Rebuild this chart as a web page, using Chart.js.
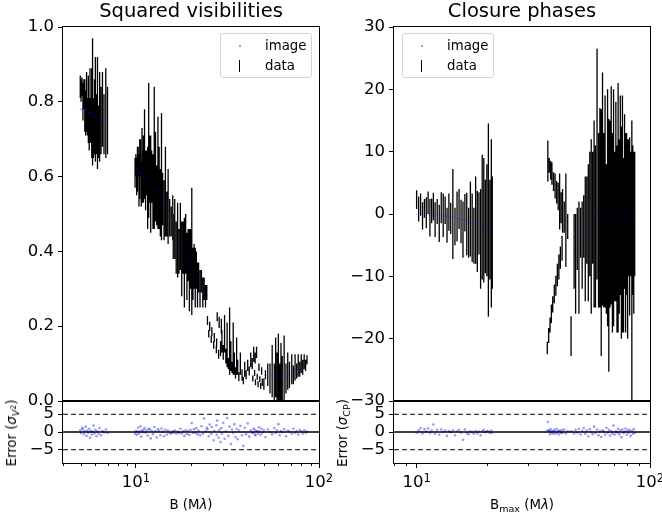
<!DOCTYPE html>
<html>
<head>
<meta charset="utf-8">
<script src="https://cdn.jsdelivr.net/npm/chart.js@4.4.1/dist/chart.umd.min.js"></script>
<style>
  body { margin: 0; background: #fff; font-family: "DejaVu Sans", sans-serif; }
  #wrap { position: relative; width: 662px; height: 519px; overflow: hidden; background: #fff; }
  canvas { position: absolute; }
  .t { position: absolute; white-space: nowrap; color: #000; transform: translate(-50%, -50%); }
  .title { font-size: 19.5px; line-height: 20px; }
  .lab { font-size: 13.3px; line-height: 14px; }
  .rot { transform: translate(-50%, -50%) rotate(-90deg); }
  sub { font-size: 72%; vertical-align: -0.3em; line-height: 0; }
  sup { font-size: 80%; vertical-align: 0.4em; line-height: 0; }
  .leg { position: absolute; box-sizing: border-box; border: 1px solid #d3d3d3; border-radius: 3px; background: rgba(255,255,255,0.8); }
  .leg .lt { position: absolute; font-size: 13.3px; line-height: 14px; }
  .leg .dot { position: absolute; width: 2px; height: 2px; background: rgba(0,0,255,0.4); }
  .leg .bar { position: absolute; width: 1px; height: 12px; background: #000; }
</style>
</head>
<body>
<div id="wrap">
  <canvas id="v2Main" width="334" height="420" style="left:0px;top:0px"></canvas>
  <canvas id="v2Resid" width="334" height="139" style="left:0px;top:380px"></canvas>
  <canvas id="cpMain" width="332" height="420" style="left:330px;top:0px"></canvas>
  <canvas id="cpResid" width="332" height="139" style="left:330px;top:380px"></canvas>

  <div class="t title" style="left:191px;top:11px">Squared visibilities</div>
  <div class="t title" style="left:522px;top:11px">Closure phases</div>
  <div class="t lab" style="left:191px;top:505px">B (M<i>λ</i>)</div>
  <div class="t lab" style="left:522px;top:505px">B<sub>max</sub> (M<i>λ</i>)</div>
  <div class="t lab rot" style="left:12px;top:433px">Error (<i>σ</i><sub><i>V</i><sup>2</sup></sub>)</div>
  <div class="t lab rot" style="left:343px;top:433px">Error (<i>σ</i><sub>CP</sub>)</div>

  <div class="leg" style="left:220px;top:33px;width:92px;height:45px">
    <span class="dot" style="left:18px;top:11px"></span><span class="lt" style="left:44px;top:5px">image</span>
    <span class="bar" style="left:18px;top:26px"></span><span class="lt" style="left:44px;top:25px">data</span>
  </div>
  <div class="leg" style="left:402px;top:33px;width:92px;height:45px">
    <span class="dot" style="left:18px;top:11px"></span><span class="lt" style="left:44px;top:5px">image</span>
    <span class="bar" style="left:18px;top:26px"></span><span class="lt" style="left:44px;top:25px">data</span>
  </div>
</div>

<script>
// squared visibilities: baseline (Mλ), V², error, model image, normalised residual
const v2B = [
  4.97, 5.02, 5.08, 5.14, 5.2, 5.26, 5.32, 5.38, 5.44, 5.5, 5.56, 5.62, 5.68, 5.74, 5.8, 5.87, 5.94, 6.01, 6.09, 6.17, 6.25, 6.34, 6.45, 6.57, 6.7, 6.85, 7.0,
  9.9, 10.0, 10.1, 10.2, 10.3, 10.4, 10.5, 10.6, 10.7, 10.8, 10.9, 11.0, 11.15, 11.3, 11.45, 11.6, 11.75, 11.9, 12.05, 12.2, 12.4, 12.6, 12.8, 13.0, 13.2, 13.4, 13.6, 13.8, 14.0, 14.25, 14.5, 14.75, 15.0, 15.3, 15.6, 15.9,
  16.0, 16.3, 16.6, 16.9, 17.2, 17.5, 17.8, 18.1, 18.4, 18.7, 19.0, 19.3, 19.6, 19.9, 20.2, 20.5, 20.8, 21.1, 21.4, 21.7, 22.0, 22.4, 22.8, 23.2, 23.6, 24.0, 24.4,
  24.6, 25.0, 25.3, 25.8, 26.0, 26.6, 26.8, 27.5, 27.6, 27.8, 28.3, 28.5, 29.0, 29.3, 29.5, 30.0, 30.5, 31.0, 31.5, 32.0, 32.5, 33.0, 33.5, 34.0, 34.5, 35.0, 35.5, 36.0, 36.5, 37.2, 38.0, 38.6, 39.3, 40.0, 40.8, 41.6, 42.4, 43.2, 44.0, 44.8, 45.6,
  43.5, 44.5, 45.0, 46.0, 46.5, 47.0, 47.5, 48.0, 48.6, 49.0, 50.0, 51.0, 52.5, 54.0, 55.5, 57.0, 58.0, 59.0, 60.0, 61.0, 62.0, 63.0, 64.5, 66.0, 67.5, 69.0, 71.0, 72.5, 74.0, 75.5, 77.0, 78.5, 80.0, 81.5, 83.0, 84.5, 86.0
];
const v2Val = [
  0.84, 0.83, 0.84, 0.80, 0.82, 0.79, 0.77, 0.80, 0.76, 0.78, 0.74, 0.79, 0.75, 0.77, 0.80, 0.73, 0.76, 0.78, 0.74, 0.77, 0.72, 0.76, 0.75, 0.78, 0.74, 0.77, 0.75,
  0.61, 0.63, 0.60, 0.62, 0.64, 0.59, 0.62, 0.65, 0.58, 0.63, 0.60, 0.62, 0.66, 0.59, 0.61, 0.57, 0.67, 0.62, 0.58, 0.60, 0.56, 0.65, 0.60, 0.55, 0.61, 0.57, 0.53, 0.60, 0.54, 0.51, 0.56, 0.50, 0.52, 0.49, 0.48, 0.49,
  0.44, 0.46, 0.41, 0.43, 0.40, 0.44, 0.38, 0.41, 0.37, 0.42, 0.36, 0.39, 0.35, 0.38, 0.40, 0.34, 0.36, 0.33, 0.35, 0.31, 0.33, 0.30, 0.32, 0.29, 0.30, 0.28, 0.29,
  0.215, 0.18, 0.20, 0.165, 0.185, 0.15, 0.17, 0.138, 0.155, 0.225, 0.125, 0.21, 0.14, 0.20, 0.16, 0.13, 0.18, 0.12, 0.15, 0.10, 0.16, 0.12, 0.09, 0.14, 0.10, 0.075, 0.12, 0.09, 0.065, 0.10, 0.07, 0.055, 0.085, 0.07, 0.095, 0.08, 0.11, 0.10, 0.125, 0.115, 0.13,
  0.06, 0.075, 0.05, 0.065, 0.045, 0.09, 0.058, 0.04, 0.08, 0.05, 0.045, 0.07, 0.07, 0.06, 0.08, 0.05, 0.09, 0.065, 0.08, 0.05, 0.075, 0.06, 0.085, 0.06, 0.08, 0.07, 0.085, 0.07, 0.09, 0.08, 0.095, 0.085, 0.1, 0.09, 0.105, 0.095, 0.11
];
const v2Err = [
  0.03, 0.03, 0.025, 0.05, 0.04, 0.07, 0.06, 0.08, 0.05, 0.09, 0.07, 0.1, 0.06, 0.12, 0.17, 0.08, 0.1, 0.14, 0.08, 0.15, 0.07, 0.12, 0.09, 0.1, 0.08, 0.12, 0.09,
  0.04, 0.03, 0.05, 0.06, 0.04, 0.07, 0.08, 0.05, 0.06, 0.1, 0.07, 0.09, 0.12, 0.08, 0.06, 0.11, 0.18, 0.09, 0.13, 0.07, 0.1, 0.19, 0.12, 0.08, 0.15, 0.11, 0.09, 0.17, 0.07, 0.08, 0.12, 0.06, 0.1, 0.05, 0.04, 0.06,
  0.06, 0.08, 0.07, 0.1, 0.06, 0.09, 0.1, 0.07, 0.12, 0.08, 0.09, 0.07, 0.11, 0.08, 0.17, 0.07, 0.06, 0.08, 0.05, 0.06, 0.04, 0.05, 0.03, 0.04, 0.03, 0.03, 0.02,
  0.012, 0.01, 0.012, 0.01, 0.012, 0.01, 0.012, 0.01, 0.012, 0.012, 0.012, 0.015, 0.02, 0.02, 0.03, 0.02, 0.05, 0.02, 0.06, 0.015, 0.09, 0.04, 0.015, 0.07, 0.03, 0.015, 0.05, 0.02, 0.012, 0.03, 0.015, 0.01, 0.02, 0.012, 0.015, 0.012, 0.02, 0.015, 0.02, 0.015, 0.015,
  0.008, 0.008, 0.008, 0.008, 0.008, 0.01, 0.008, 0.008, 0.01, 0.01, 0.015, 0.012, 0.03, 0.04, 0.07, 0.05, 0.08, 0.065, 0.1, 0.05, 0.08, 0.06, 0.09, 0.04, 0.05, 0.035, 0.04, 0.025, 0.035, 0.02, 0.03, 0.02, 0.025, 0.02, 0.02, 0.015, 0.012
];
const v2Model = [
  0.78, 0.78, 0.78, 0.78, 0.78, 0.78, 0.78, 0.77, 0.77, 0.77, 0.77, 0.77, 0.77, 0.77, 0.77, 0.76, 0.76, 0.76, 0.76, 0.76, 0.76, 0.76, 0.76, 0.75, 0.75, 0.75, 0.75,
  0.62, 0.62, 0.62, 0.62, 0.61, 0.61, 0.61, 0.61, 0.61, 0.60, 0.60, 0.60, 0.60, 0.59, 0.59, 0.59, 0.58, 0.58, 0.58, 0.57, 0.57, 0.56, 0.56, 0.56, 0.55, 0.55, 0.54, 0.54, 0.53, 0.53, 0.52, 0.52, 0.51, 0.50, 0.49, 0.49,
  0.45, 0.44, 0.44, 0.43, 0.42, 0.42, 0.41, 0.40, 0.40, 0.39, 0.38, 0.38, 0.37, 0.36, 0.36, 0.35, 0.34, 0.34, 0.33, 0.32, 0.32, 0.31, 0.30, 0.30, 0.29, 0.28, 0.28,
  0.21, 0.18, 0.20, 0.165, 0.185, 0.15, 0.17, 0.14, 0.155, 0.22, 0.13, 0.205, 0.14, 0.19, 0.155, 0.13, 0.17, 0.12, 0.14, 0.10, 0.14, 0.115, 0.09, 0.125, 0.10, 0.078, 0.11, 0.088, 0.066, 0.095, 0.072, 0.058, 0.083, 0.07, 0.092, 0.08, 0.105, 0.1, 0.12, 0.113, 0.128,
  0.06, 0.074, 0.051, 0.064, 0.046, 0.088, 0.058, 0.041, 0.079, 0.05, 0.046, 0.068, 0.065, 0.058, 0.07, 0.055, 0.072, 0.062, 0.06, 0.058, 0.068, 0.062, 0.072, 0.065, 0.074, 0.07, 0.078, 0.073, 0.082, 0.08, 0.088, 0.086, 0.094, 0.092, 0.1, 0.097, 0.108
];
const v2Res = [
  0.5, -0.3, 1.2, 0.8, -0.6, 0.2, 1.5, -1.1, 0.4, -0.2, 0.9, -1.6, 0.3, -0.7, 0.1, 1.8, -0.4, 0.6, -1.2, 0.2, -0.5, 1.1, -0.9, 0.3, -0.1, 0.7, -0.3,
  -0.4, 0.3, -0.8, 0.1, 1.2, -0.5, 0.2, 1.6, -1.3, 0.4, -0.1, 0.6, 1.1, -0.2, 0.5, -1.0, 0.9, 0.7, -1.8, 0.3, -0.6, 1.4, 0.2, -1.5, 0.8, 0.3, -0.9, 1.0, 0.1, -1.2, 0.6, -0.7, 0.4, -0.3, -0.5, 0.2,
  -0.2, 0.4, -0.5, 0.1, -0.3, 0.9, -0.4, 0.2, -1.1, 0.5, -0.6, 0.3, -0.8, 0.6, 2.5, -0.3, 0.8, -0.2, 1.1, -0.6, 0.4, -0.9, 1.6, -0.5, 3.8, 0.2, 1.2,
  0.8, -1.2, 2.1, -0.5, 1.4, -2.3, 0.3, 1.9, -0.8, 3.2, -1.6, 0.6, -2.8, 1.1, -0.4, 2.6, -1.9, 0.2, 3.9, -1.1, 1.5, -3.4, 0.7, -0.2, 2.2, -1.4, 0.9, -2.0, 0.4, 1.7, -0.9, -3.9, 1.2, -0.6, 2.4, -1.3, 0.5, -0.1, 1.0, -0.7, 0.3,
  -0.3, 0.6, -1.0, 0.2, -0.5, 1.3, 0.1, -0.8, 0.9, -0.2, 0.4, -1.4, 0.7, 0.0, -0.6, 1.1, -0.3, 0.5, 2.2, -0.9, 0.3, -0.1, 0.8, -1.2, 0.4, 0.1, -0.5, 0.9, -0.2, 0.3, -0.7, 0.6, 0.2, -0.4, 0.5, -0.2, 0.1
];

// closure phases: longest baseline (Mλ), CP (deg), error, model image, normalised residual
const cpB = [
  10.0, 10.2, 10.4, 10.6, 10.8, 11.0, 11.2, 11.4, 11.6, 11.8, 12.0, 12.25, 12.5, 12.75, 13.0, 13.25, 13.5, 13.75, 14.0, 14.3, 14.6, 14.9, 15.2, 15.5, 15.8, 16.1, 16.4, 16.7, 17.0, 17.3, 17.6, 17.9, 18.2, 18.5, 18.8, 19.1, 19.4, 19.7, 20.0, 20.3, 20.6, 20.9, 21.1,
  36.3, 36.5, 36.8, 37.0, 37.3, 37.5, 37.8, 38.0, 38.3, 38.6, 38.9, 39.2, 39.5, 39.8, 40.1, 40.4, 40.7, 41.0, 41.3, 41.6, 42.0, 42.2, 42.9, 43.6, 44.4,
  45.9, 47.3, 48.0, 48.8, 49.6, 50.4, 51.2, 52.0, 52.8, 53.6, 54.4, 55.2, 56.0, 56.8, 57.6, 58.4, 59.3, 60.2, 61.0, 61.8, 62.6, 63.4, 64.2, 65.0, 65.8, 66.6, 67.4, 68.2, 69.0, 69.8, 70.6, 71.4, 72.2, 73.0, 73.8, 74.6, 75.4, 76.2, 77.0, 77.8, 78.6, 79.4, 80.2, 81.0, 81.8, 82.6, 83.6, 84.4, 85.2, 86.0
];
const cpVal = [
  2.3, 0.8, 1.5, -0.3, 0.9, 0.2, 1.8, -0.6, 0.5, 1.2, -0.9, 0.4, -1.5, 1.0, -0.2, 0.6, -1.8, 0.3, -0.7, 0.0, -2.0, -0.4, 0.8, -1.2, -2.5, 0.2, -1.6, -3.0, -0.8, -2.2, -3.5, -1.0, -2.8, -1.5, -4.0, -0.5, -1.0, -2.0, -1.0, -1.0, -2.5, -1.5, -3.0,
  -21.5, 8.5, -19.5, 7.8, -17.8, 7.0, -16.0, 6.5, -14.5, 5.2, -12.8, 4.5, -11.5, 3.5, -9.8, 2.8, -8.5, 2.0, -7.0, 1.0, -5.5, 0.5, -0.5, -1.0, -2.0,
  -19.6, -6, -8, -4, -7, -3, -5, -2, -4, -1, -3, 0, -2, 1, 0, -2, 8, -1, 1, -3, 4, -1, 2, -4, 1, -5, 0, 3, -3, 1, -2, 2, -4, 1, -2, 3, -3, 0, -5, 2, -3, 0, -4, 1, -2, 0, -10, -1, -3, 0
];
const cpErr = [
  1.5, 2.0, 1.8, 2.2, 1.5, 2.5, 1.8, 3.0, 2.0, 2.2, 2.8, 2.0, 3.0, 2.5, 3.5, 2.2, 2.8, 3.0, 2.5, 7.2, 3.0, 4.0, 3.2, 3.5, 4.5, 3.0, 5.0, 4.0, 6.0, 5.5, 4.5, 7.0, 6.5, 5.0, 8.0, 10.0, 10.0, 7.5, 9.0, 15.5, 8.0, 13.5, 9.0,
  1.0, 3.3, 1.2, 1.2, 1.2, 1.5, 1.5, 1.8, 1.3, 1.5, 1.5, 2.0, 1.6, 1.8, 1.8, 2.2, 2.0, 4.5, 1.8, 2.5, 2.0, 3.5, 2.5, 7.5, 2.0,
  3.2, 6, 8, 5, 9, 4, 7, 5, 10, 7, 11, 10, 14, 9, 15, 13, 18.5, 14, 16, 19.8, 18.7, 14, 17, 12, 19, 20.3, 15, 17.5, 16, 19, 12, 16, 15, 20, 14, 16, 17, 19, 14, 14, 16, 13, 16, 11, 14.3, 10, 25, 12, 13, 10
];
const cpModel = [
  0.0, 0.0, 0.1, 0.1, 0.1, 0.1, 0.0, 0.0, 0.0, 0.0, -0.1, -0.1, -0.2, -0.2, -0.3, -0.3, -0.4, -0.4, -0.5, -0.5, -0.6, -0.7, -0.8, -0.9, -1.0, -1.0, -1.1, -1.2, -1.3, -1.4, -1.5, -1.5, -1.6, -1.7, -1.8, -1.9, -2.0, -2.0, -2.1, -2.2, -2.3, -2.3, -2.4,
  -21.2, 8.0, -19.3, 7.6, -17.6, 7.1, -16.2, 6.4, -14.6, 5.5, -13.0, 4.6, -11.6, 3.6, -10.1, 2.7, -8.7, 1.8, -7.2, 1.1, -5.8, 0.4, -0.4, -1.2, -1.8,
  -19.0, -5.5, -7.2, -3.8, -6.0, -2.6, -4.4, -1.8, -3.5, -1.0, -2.6, -0.3, -1.6, 0.2, -0.4, -1.6, 0.5, -1.0, 0.4, -1.4, 0.6, -1.0, 0.4, -1.5, 0.2, -2.0, -0.4, 0.6, -1.4, 0.2, -1.2, 0.5, -1.6, 0.1, -1.1, 0.6, -1.3, -0.3, -1.8, 0.5, -1.2, -0.3, -1.5, 0.2, -1.0, -0.3, -2.5, -0.6, -1.3, -0.2
];
const cpRes = [
  -0.2, 0.5, 1.1, -0.4, 0.8, 0.1, 1.0, -0.3, 0.4, 2.1, -0.5, 0.6, -0.8, 0.7, 0.0, 0.4, -1.1, 0.3, -0.1, 0.5, -0.9, 0.2, 0.6, -0.2, -2.2, 0.7, -0.3, -0.6, 0.2, -0.1, -0.5, 0.3, -0.4, 0.1, -0.9, 0.2, 0.6, -0.1, 0.3, 0.2, -0.3, 0.4, -0.2,
  0.4, 2.8, 0.2, 0.5, -0.6, 0.8, 0.1, -0.2, 0.3, -0.5, 0.6, 0.2, -0.4, 0.9, -0.1, 0.3, -0.7, 0.4, 0.1, -0.3, 0.5, -0.2, 0.7, -0.4, 0.2,
  0.2, -0.4, 0.6, -0.2, 0.9, -0.7, 0.3, 1.1, -0.5, 0.4, -1.2, 0.8, 0.0, -0.6, 1.5, -0.3, 0.7, -0.9, 0.2, -1.4, 0.5, 0.1, -0.8, 1.2, -0.2, 0.6, -1.0, 0.3, -0.4, 1.8, -0.7, 0.2, -0.1, 0.9, -0.6, 0.4, -1.5, 0.7, -0.3, 0.1, 1.0, -0.8, 0.5, -0.2, 0.6, -1.1, 0.3, -0.5, 0.8, -0.3
];

// axes
const v2Ticks = [0, 0.2, 0.4, 0.6, 0.8, 1.0];
const cpTicks = [-30, -20, -10, 0, 10, 20, 30];
const resTicks = [-5, 0, 5];
const resLines = [0, 5, -5];
const xMajor = [10, 100];
const v2Minor = [4, 5, 6, 7, 8, 9, 20, 30, 40, 50, 60, 70, 80, 90];
const cpMinor = [8, 9, 20, 30, 40, 50, 60, 70, 80, 90];

const black = '#000000';
const tickFont = { family: 'DejaVu Sans', size: 16.5 };
Chart.defaults.font.family = 'DejaVu Sans';

// force axis size, drop the automatic label padding so the plot box lands where we want it
function fitTo(w, h) {
  return scale => {
    if (w !== undefined) scale.width = w;
    if (h !== undefined) scale.height = h;
    scale.paddingLeft = 0;
    scale.paddingRight = 0;
    scale.paddingTop = 0;
    scale.paddingBottom = 0;
  };
}
function setTicks(values) {
  return scale => { scale.ticks = values.map(v => ({ value: v })); };
}
function signed(v) { return v < 0 ? '\u2212' + Math.abs(v) : String(v); }

function errorBars(xs, ys, es) {
  const pts = [];
  xs.forEach((x, i) => {
    pts.push({ x: x, y: ys[i] - es[i] }, { x: x, y: ys[i] + es[i] }, { x: x, y: null });
  });
  return pts;
}
function points(xs, ys) { return xs.map((x, i) => ({ x: x, y: ys[i] })); }

// matplotlib style frame, short minor ticks and 10^n labels on the log axis
const boxPlugin = {
  id: 'box',
  afterDraw(chart, args, opts) {
    const { ctx, chartArea: a } = chart;
    ctx.save();
    ctx.strokeStyle = black;
    ctx.lineWidth = 1;
    ctx.strokeRect(a.left - 0.5, a.top - 0.5, a.right - a.left + 1, a.bottom - a.top + 1);
    if (opts.minor) {
      const sx = chart.scales.x;
      ctx.beginPath();
      opts.minor.forEach(v => {
        const px = Math.round(sx.getPixelForValue(v)) + 0.5;
        ctx.moveTo(px, a.bottom);
        ctx.lineTo(px, a.bottom + 3);
      });
      ctx.stroke();

      ctx.fillStyle = black;
      ctx.textBaseline = 'alphabetic';
      ctx.textAlign = 'left';
      xMajor.forEach(v => {
        const px = sx.getPixelForValue(v);
        const exp = String(Math.round(Math.log10(v)));
        ctx.font = '16.5px "DejaVu Sans"';
        const wBase = ctx.measureText('10').width;
        ctx.font = '11.5px "DejaVu Sans"';
        const wExp = ctx.measureText(exp).width;
        const x0 = px - (wBase + wExp) / 2;
        ctx.font = '16.5px "DejaVu Sans"';
        ctx.fillText('10', x0, a.bottom + 24);
        ctx.font = '11.5px "DejaVu Sans"';
        ctx.fillText(exp, x0 + wBase, a.bottom + 19);
      });
    }
    ctx.restore();
  }
};

function yAxis(min, max, ticks, fmt, width) {
  return {
    type: 'linear', min: min, max: max,
    afterBuildTicks: setTicks(ticks),
    afterFit: fitTo(width),
    ticks: { callback: fmt, font: tickFont, color: black, padding: 4, autoSkip: false },
    grid: { drawOnChartArea: false, tickLength: 5, tickColor: black, tickWidth: 1 },
    border: { display: false }
  };
}

function mainChart(id, xs, ys, es, model, xMin, yMin, yMax, yTicks, fmt, yWidth, padRight) {
  return new Chart(document.getElementById(id), {
    type: 'scatter',
    data: {
      datasets: [
        { label: 'image', data: points(xs, model), pointRadius: 0.8, backgroundColor: 'rgba(0,0,255,0.3)', borderWidth: 0 },
        { label: 'data', data: errorBars(xs, ys, es), showLine: true, borderColor: black, borderWidth: 1.3, pointRadius: 0 }
      ]
    },
    options: {
      responsive: false, animation: false, events: [], devicePixelRatio: 1,
      layout: { padding: { left: 0, top: 27, right: padRight, bottom: 19 } },
      plugins: { legend: { display: false }, tooltip: { enabled: false }, box: {} },
      scales: {
        x: { type: 'logarithmic', min: xMin, max: 100, display: false },
        y: yAxis(yMin, yMax, yTicks, fmt, yWidth)
      }
    },
    plugins: [boxPlugin]
  });
}

function residualChart(id, xs, res, xMin, minor, yWidth, padRight) {
  const lines = resLines.map(v => ({
    data: [{ x: xMin, y: v }, { x: 100, y: v }],
    showLine: true, pointRadius: 0, borderColor: black,
    borderWidth: v === 0 ? 1.3 : 1.1,
    borderDash: v === 0 ? [] : [5, 3]
  }));
  return new Chart(document.getElementById(id), {
    type: 'scatter',
    data: {
      datasets: lines.concat([
        { data: points(xs, res), pointRadius: 1.3, backgroundColor: 'rgba(0,0,255,0.4)', borderWidth: 0 }
      ])
    },
    options: {
      responsive: false, animation: false, events: [], devicePixelRatio: 1,
      layout: { padding: { left: 0, top: 21, right: padRight, bottom: 22 } },
      plugins: { legend: { display: false }, tooltip: { enabled: false }, box: { minor: minor } },
      scales: {
        x: {
          type: 'logarithmic', min: xMin, max: 100, position: 'bottom',
          afterBuildTicks: setTicks(xMajor),
          afterFit: fitTo(undefined, 34),
          ticks: { display: false },
          grid: { drawOnChartArea: false, tickLength: 5, tickColor: black, tickWidth: 1 },
          border: { display: false }
        },
        y: yAxis(-8.7, 8.7, resTicks, signed, yWidth)
      }
    },
    plugins: [boxPlugin]
  });
}

mainChart('v2Main', v2B, v2Val, v2Err, v2Model, 4, 0, 1, v2Ticks, v => Number(v).toFixed(1), 63, 15);
residualChart('v2Resid', v2B, v2Res, 4, v2Minor, 63, 15);
mainChart('cpMain', cpB, cpVal, cpErr, cpModel, 8, -30, 30, cpTicks, signed, 64, 12);
residualChart('cpResid', cpB, cpRes, 8, cpMinor, 64, 12);
</script>
</body>
</html>
